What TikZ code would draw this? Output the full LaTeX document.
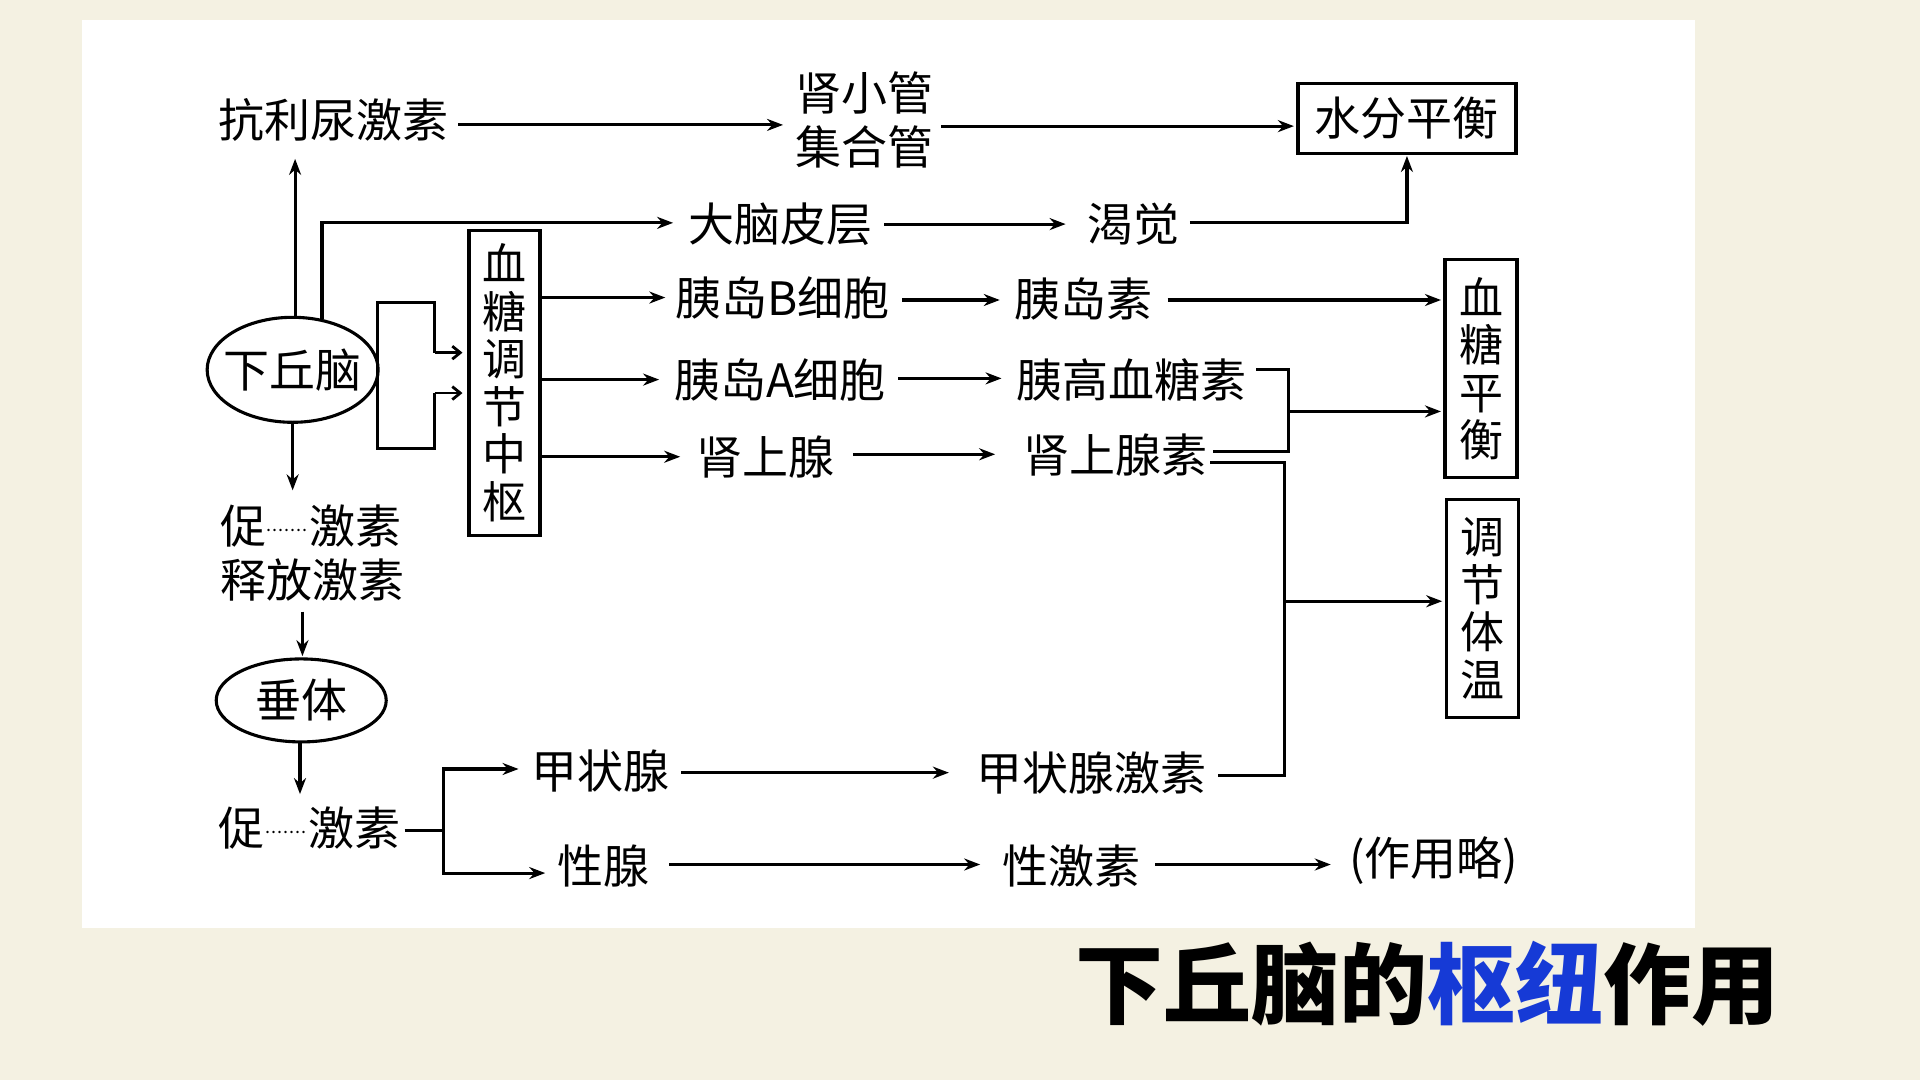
\documentclass[tikz,border=0pt]{standalone}
\usepackage{fontspec}
\setmainfont{Noto Sans CJK SC}
\usetikzlibrary{arrows.meta,shapes.geometric,calc}
\definecolor{bgc}{RGB}{244,241,226}
\definecolor{ttl}{RGB}{22,58,214}
\newcommand\dotgap{\raisebox{0.26em}{\makebox[0.95em]{\fontsize{18pt}{18pt}\selectfont\leaders\hbox to 6pt{\hss.\hss}\hfill}}}
\tikzset{
  lbl/.style={font=\fontsize{46}{54}\selectfont, inner sep=0pt},
  arr/.style={line width=3.1pt, -{Stealth[length=16pt,width=12pt]}},
  ln/.style={line width=3.1pt},
  vbox/.style={draw, line width=3.2pt, align=center, inner sep=0pt,
    font=\fontsize{44}{47.5}\selectfont},
  oval/.style={draw, ellipse, line width=3.1pt, inner ysep=0pt,
    font=\fontsize{46}{54}\selectfont},
}
\begin{document}
\begin{tikzpicture}[x=1.2245pt,y=-1.2245pt]
\fill[bgc] (0,0) rectangle (1568,882);
\useasboundingbox (0,0) rectangle (1568,882);
\fill[white] (67,16) rectangle (1384,758);

% nodes
\node[lbl] (kl) at (272,98) {抗利尿激素};
\node[lbl, align=center] (sx) at (706,98) {肾小管\\集合管};
\node[vbox, minimum width=218pt, minimum height=70pt, font=\fontsize{46}{54}\selectfont] (sf) at (1149,96.5) {水分平衡};
\node[lbl] (dn) at (637,183) {大脑皮层};
\node[lbl] (kj) at (926,183) {渴觉};
\node[oval, inner xsep=-9pt, minimum width=171pt, minimum height=105pt] (xq) at (239,302) {下丘脑};
\node[vbox, minimum width=71pt, minimum height=305pt] (hub) at (412,312.5) {血\\糖\\调\\节\\中\\枢};
\node[lbl] (yb) at (639,243) {胰岛B细胞};
\node[lbl] (ya) at (637,310) {胰岛A细胞};
\node[lbl] (ss) at (625,373) {肾上腺};
\node[lbl] (yds) at (885,244) {胰岛素};
\node[lbl] (ygx) at (924,310) {胰高血糖素};
\node[lbl] (sss) at (911,372) {肾上腺素};
\node[vbox, minimum width=72pt, minimum height=218pt] (xt) at (1209.5,301) {血\\糖\\平\\衡};
\node[vbox, minimum width=72pt, minimum height=218pt] (tw) at (1210.5,497) {调\\节\\体\\温};
\node[lbl, align=left] (cj1) at (255,452) {促\dotgap 激素\\释放激素};
\node[oval, inner xsep=0pt, minimum width=170pt, minimum height=83pt] (ct) at (246,572) {垂体};
\node[lbl] (cj2) at (253,676) {促\dotgap 激素};
\node[lbl] (jz) at (490,630) {甲状腺};
\node[lbl] (xx) at (493,707) {性腺};
\node[lbl] (jzj) at (891,631) {甲状腺激素};
\node[lbl] (xjs) at (875,707) {性激素};
\node[lbl] (zy) at (1171,703) {(作用略)};
\node[font=\fontsize{88}{90}\selectfont\bfseries, inner sep=0pt] (title) at (1166,803) {下丘脑的\textcolor{ttl}{枢纽}作用};

% top row
\draw[arr] ($(kl.east)+(8,4)$) -- ($(sx.west |- kl.east)+(-10,4)$);
\draw[arr] ($(sx.east)+(6,5)$) -- ($(sf.west |- sx.east)+(-2,5)$);
\draw[arr] ($(dn.east)+(10,0)$) -- ($(kj.west)+(-18,0)$);
\coordinate (kjc) at ($(sf.south |- kj.east)$);
\draw[arr] ($(kj.east)+(8,-1)$) -- ($(kjc)+(0,-1)$) -- ($(sf.south)+(0,1)$);

% hypothalamus outputs
\draw[arr] ($(xq.north)+(2,0)$) -- ($(xq.north |- kl.south)+(2,14)$);
\draw[arr] (xq.60) |- ($(dn.west)+(-12,-1)$);
\draw[arr] (xq.south) -- ($(xq.south |- cj1.north)+(0,-12)$);

% notch between hypothalamus and hub
\coordinate (n1) at (355,288);
\coordinate (n2) at (355,321);
\draw[ln, line join=miter] (n1) -- (355,247) -- (308,247) -- (308,366) -- (355,366) -- (n2);
\draw[line width=2.8pt, -{Straight Barb[length=8pt,width=13pt]}] (n1) -- ($(hub.west |- n1)+(-4,0)$);
\draw[line width=2.8pt, -{Straight Barb[length=8pt,width=13pt]}] (n2) -- ($(hub.west |- n2)+(-4,0)$);

% hub outputs
\draw[arr] (hub.east |- yb) -- ($(yb.west)+(-8,0)$);
\draw[arr] (hub.east |- ya) -- ($(ya.west)+(-12,0)$);
\draw[arr] (hub.east |- ss) -- ($(ss.west)+(-13,0)$);
\draw[arr] ($(yb.east)+(10,2)$) -- ($(yds.west)+(-12,1)$);
\draw[arr] ($(ya.east)+(10,-1)$) -- ($(ygx.west)+(-12,-1)$);
\draw[arr] ($(ss.east)+(15,-2)$) -- ($(sss.west)+(-23,-1)$);
\draw[arr] ($(yds.east)+(12,1)$) -- ($(xt.west |- yds.east)+(-2,1)$);

% bracket to blood sugar balance
\coordinate (b1a) at (1052,302);
\coordinate (b1b) at (1052,369);
\coordinate (b1m) at (1052,336);
\draw[ln] ($(ygx.east |- b1a)+(8,0)$) -- (b1a) -- (b1b) -- ($(sss.east |- b1b)+(4,0)$);
\draw[arr] (b1m) -- ($(xt.west |- b1m)+(-2,0)$);

% bracket to body temperature
\coordinate (b2a) at (1049,378);
\coordinate (b2b) at (1049,633);
\coordinate (b2m) at (1049,491);
\draw[ln] ($(sss.east |- b2a)+(2,0)$) -- (b2a) -- (b2b) -- ($(jzj.east |- b2b)+(10,0)$);
\draw[arr] (b2m) -- ($(tw.west |- b2m)+(-2,0)$);

% pituitary chain
\draw[arr] ($(ct.north |- cj1.south)+(1,8)$) -- ($(ct.north)+(1,-1)$);
\draw[arr] ($(ct.south)+(-1,0)$) -- ($(ct.south |- cj2.north)+(-1,-10)$);
\coordinate (b3) at (362,678);
\draw[ln] ($(cj2.east |- b3)+(3,0)$) -- (b3);
\draw[arr] (b3) |- ($(jz.west)+(-10,-2)$);
\draw[arr] (b3) |- ($(xx.west)+(-10,6)$);
\draw[arr] ($(jz.east)+(10,1)$) -- ($(jzj.west)+(-22,0)$);
\draw[arr] ($(xx.east)+(16,-1)$) -- ($(xjs.west)+(-18,-1)$);
\draw[arr] ($(xjs.east)+(12,-1)$) -- ($(zy.west)+(-15,3)$);
\end{tikzpicture}
\end{document}
